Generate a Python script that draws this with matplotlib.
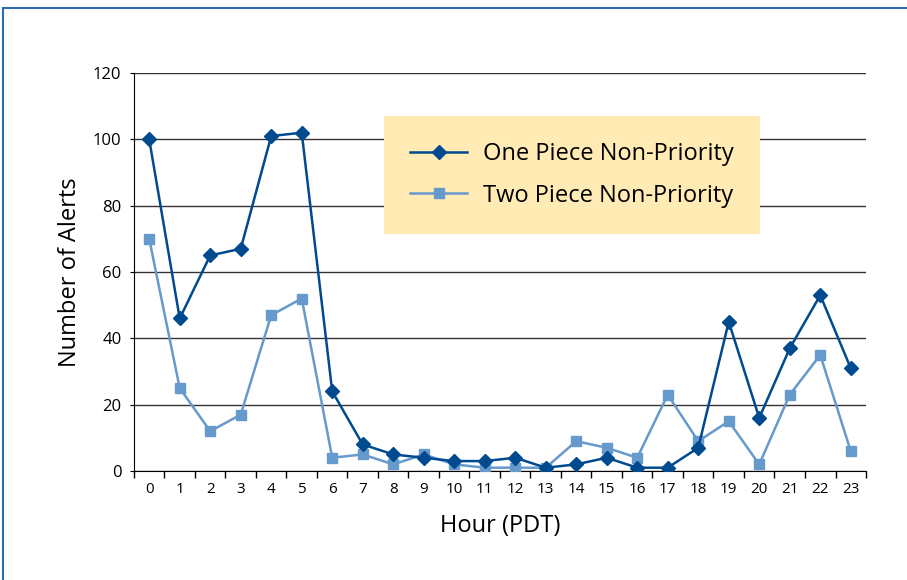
import matplotlib.pyplot as plt
from matplotlib.patches import Rectangle

plt.rcParams['font.family'] = ['Open Sans', 'DejaVu Sans']

hours = list(range(24))
one_piece = [100, 46, 65, 67, 101, 102, 24, 8, 5, 4, 3, 3, 4, 1, 2, 4, 1, 1, 7, 45, 16, 37, 53, 31]
two_piece = [70, 25, 12, 17, 47, 52, 4, 5, 2, 5, 2, 1, 1, 1, 9, 7, 4, 23, 9, 15, 2, 23, 35, 6]

dark = '#004a8f'
light = '#6699cc'

fig = plt.figure(figsize=(9.07, 5.8), dpi=100)
ax = fig.add_axes([0.1477, 0.1879, 0.8071, 0.6862])

# blue frame around the whole thing
fig.patches.append(Rectangle((3 / 907, -0.05), 1.1, 1 - 8 / 580 + 0.05, transform=fig.transFigure,
                             fill=False, edgecolor='#2f6db3', linewidth=1.5))

ax.plot(hours, one_piece, color=dark, lw=1.8, marker='D', ms=7, label='One Piece Non-Priority', zorder=4)
ax.plot(hours, two_piece, color=light, lw=1.8, marker='s', ms=7, label='Two Piece Non-Priority', zorder=3)

ax.set_xlim(-0.5, 23.5)
ax.set_ylim(0, 120)
ax.set_yticks(range(0, 121, 20))
ax.set_xticks(hours)
ax.set_xticks([h - 0.5 for h in hours] + [23.5], minor=True)
ax.tick_params(axis='x', which='major', length=0, labelsize=11, pad=8)
ax.tick_params(axis='x', which='minor', length=5, width=1, direction='out')
ax.tick_params(axis='y', length=3, labelsize=12, pad=6)
ax.grid(axis='y', color='#333333', lw=1)
ax.set_axisbelow(True)
for s in ['top', 'right']:
    ax.spines[s].set_visible(False)
ax.spines['left'].set_color('black')
ax.spines['bottom'].set_color('black')

ax.set_ylabel('Number of Alerts', fontsize=17, labelpad=8)
ax.set_xlabel('Hour (PDT)', fontsize=17, labelpad=12)

leg = ax.legend(loc='upper left', bbox_to_anchor=(0.342, 0.892), fontsize=17, frameon=True,
                fancybox=False, borderpad=1.1, handlelength=2.4, labelspacing=0.75, handletextpad=0.7,
                borderaxespad=0)
leg.get_frame().set_facecolor('#ffebb3')
leg.get_frame().set_edgecolor('none')
leg.get_frame().set_alpha(1)

plt.savefig('out.png', dpi=100)
